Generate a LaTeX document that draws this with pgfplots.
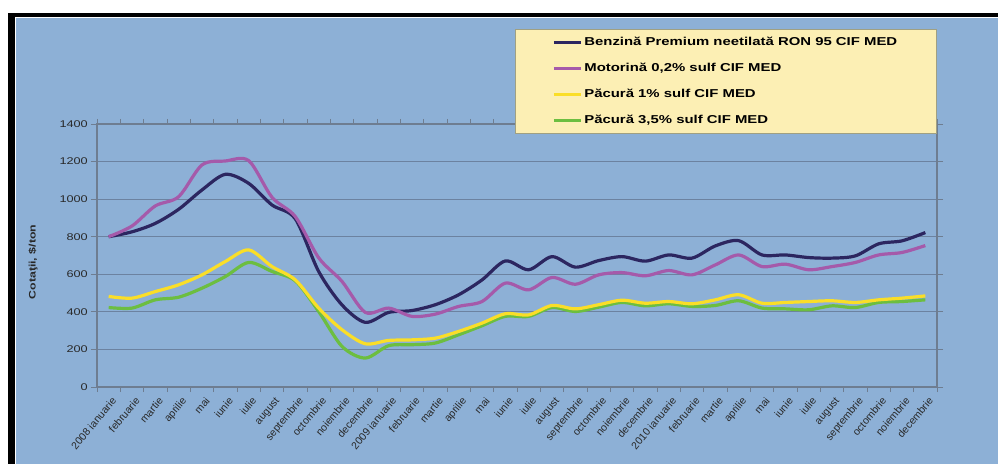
\documentclass[border=0pt]{standalone}
\usepackage{fontspec}
\setmainfont{Liberation Sans}
\newfontfamily\wideA[FakeStretch=1.3]{Liberation Sans}
\usepackage{pgfplots}
\pgfplotsset{compat=1.18}
\usepackage{pgfplotstable}
\definecolor{bgblue}{RGB}{141,176,214}
\definecolor{gridcol}{RGB}{108,130,160}
\definecolor{axiscol}{RGB}{110,125,145}
\definecolor{navy}{RGB}{44,38,96}
\definecolor{purp}{RGB}{165,90,170}
\definecolor{yel}{RGB}{250,222,40}
\definecolor{grn}{RGB}{108,190,64}
\definecolor{legfill}{RGB}{252,239,180}
\definecolor{legdraw}{RGB}{160,160,130}
\definecolor{tickcol}{RGB}{40,40,40}

\pgfplotstableread{
i ben mot pa pb
0 800 800 482 423
1 826 857 473 420
2 871 964 508 464
3 946 1013 544 478
4 1049 1182 597 526
5 1132 1203 668 588
6 1084 1205 730 663
7 969 1010 641 615
8 895 907 570 565
9 615 688 420 402
10 437 562 305 216
11 344 397 230 154
12 397 420 248 220
13 407 376 251 225
14 438 388 260 234
15 491 429 296 278
16 570 455 340 326
17 671 553 390 376
18 624 517 384 376
19 694 583 434 423
20 638 547 416 402
21 673 597 438 425
22 694 609 462 450
23 670 592 446 432
24 703 620 455 443
25 686 597 443 429
26 751 650 464 434
27 779 703 491 459
28 703 641 446 420
29 703 654 450 416
30 689 624 455 411
31 686 641 459 432
32 698 663 450 423
33 762 703 464 450
34 778 716 473 455
35 822 753 485 464
}\data

\begin{document}
\begin{tikzpicture}
\useasboundingbox (0bp,0bp) rectangle (998bp,464bp);
\fill[white] (0bp,0bp) rectangle (998bp,464bp);
\fill[black] (8bp,0bp) rectangle (15bp,451bp);
\fill[black] (8bp,447bp) rectangle (998bp,451bp);
\fill[bgblue] (16bp,0bp) rectangle (998bp,446bp);
\begin{axis}[
  at={(97bp,77bp)}, anchor=south west,
  scale only axis, width=840bp, height=263bp,
  xmin=-0.5, xmax=35.5, ymin=0, ymax=1400,
  xtick={0,...,35},
  xticklabels={2008 ianuarie,februarie,martie,aprilie,mai,iunie,iulie,august,septembrie,octombrie,noiembrie,decembrie,2009 ianuarie,februarie,martie,aprilie,mai,iunie,iulie,august,septembrie,octombrie,noiembrie,decembrie,2010 ianuarie,februarie,martie,aprilie,mai,iunie,iulie,august,septembrie,octombrie,noiembrie,decembrie},
  minor xtick={-0.5,0.5,...,35.5},
  every major x tick/.append style={draw=none},
  ytick={0,200,...,1400},
  ymajorgrids,
  grid style={gridcol, line width=0.9bp},
  axis line style={axiscol, line width=1.1bp},
  tick style={axiscol, line width=0.9bp},
  tick align=outside,
  major tick length=6bp, minor tick length=5bp,
  /pgf/number format/assume math mode=true,
  /pgf/number format/1000 sep={},
  yticklabel style={font=\wideA\fontsize{9.8}{12}\selectfont, text=tickcol, inner sep=1bp, xshift=-2bp},
  xticklabel style={rotate=50, anchor=north east, font=\fontsize{10.5}{12}\selectfont, text=tickcol, inner sep=1bp, yshift=-3bp},
  ylabel={Cotaţii, \$/ton},
  every axis y label/.style={at={(rel axis cs:-0.0762,0.475)}, rotate=90, anchor=center, font=\wideA\bfseries\fontsize{9.5}{11}\selectfont, text=tickcol},
  legend style={at={(rel axis cs:0.4976,1.361)}, anchor=north west, fill=legfill, draw=legdraw, line width=0.8bp,
    font=\wideA\bfseries\fontsize{11.5}{13}\selectfont, text=black,
    inner xsep=37bp, inner ysep=7bp, row sep=14.5bp,
    nodes={text height=9bp, text depth=2.5bp, inner ysep=0pt},
    /tikz/every even column/.append style={column sep=2bp}},
  legend cell align=left,
  legend image code/.code={\draw[#1, line width=3bp] (0bp,0bp) -- (27bp,0bp);},
]
\addplot[grn, line width=3.2bp, smooth, tension=0.5, forget plot] table[x=i, y=pb] {\data};
\addplot[navy, line width=3.2bp, smooth, tension=0.5] table[x=i, y=ben] {\data};
\addlegendentry{Benzină Premium neetilată RON 95 CIF MED}
\addplot[purp, line width=3.2bp, smooth, tension=0.5] table[x=i, y=mot] {\data};
\addlegendentry{Motorină 0,2\% sulf CIF MED}
\addplot[yel, line width=3.2bp, smooth, tension=0.5] table[x=i, y=pa] {\data};
\addlegendentry{Păcură 1\% sulf CIF MED}
\addlegendimage{grn, line width=3.2bp}
\addlegendentry{Păcură 3,5\% sulf CIF MED}
\end{axis}
\end{tikzpicture}
\end{document}
